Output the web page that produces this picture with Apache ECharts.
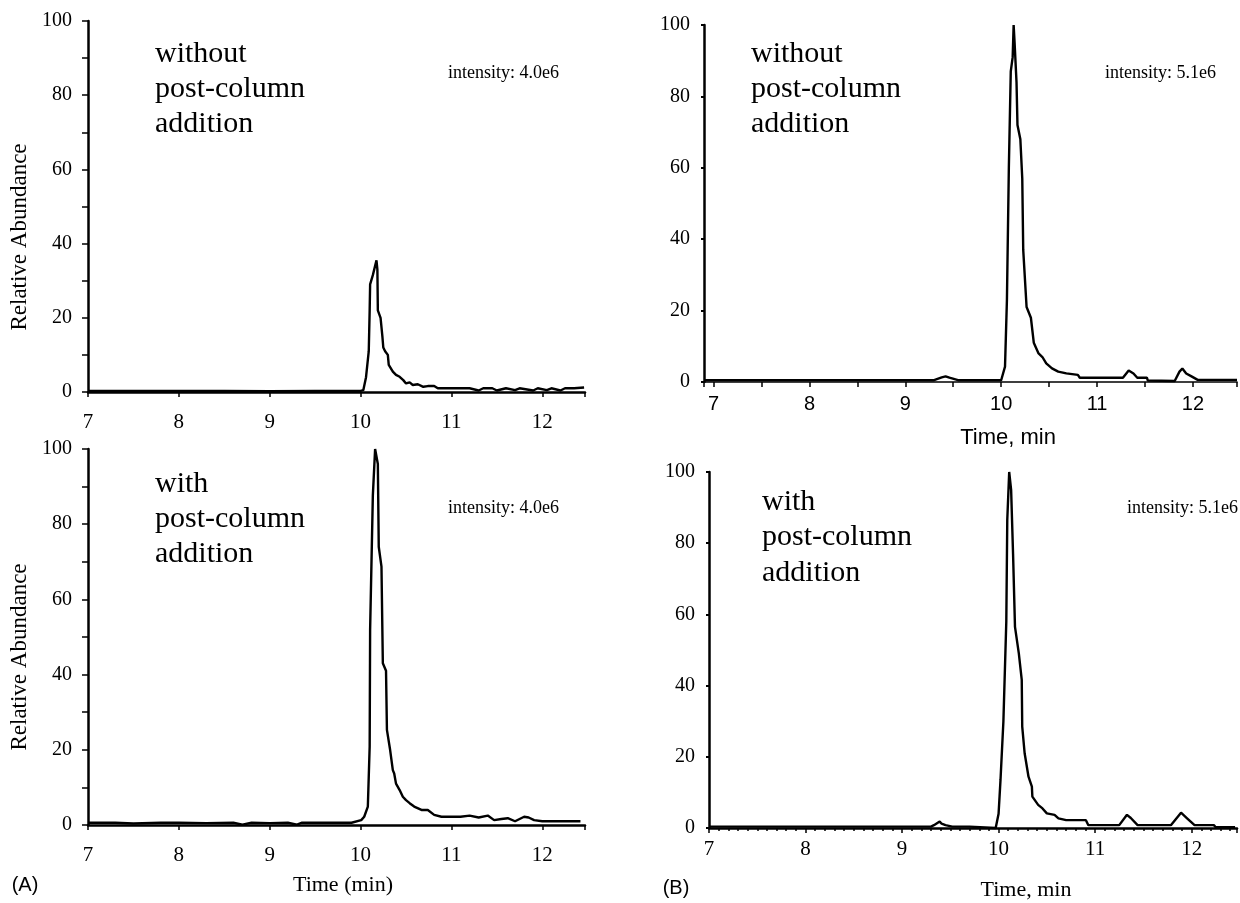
<!DOCTYPE html>
<html>
<head>
<meta charset="utf-8">
<script src="https://cdn.jsdelivr.net/npm/echarts@6/dist/echarts.min.js"></script>
<style>
html,body{margin:0;padding:0;background:#fff;}
#chart{width:1240px;height:903px;}
</style>
</head>
<body>
<div id="chart"></div>
<script>
// Panel A, top: without post-column addition (intensity 4.0e6)
const timeA1 = [7.0, 7.5, 8.0, 8.5, 9.0, 9.5, 10.0, 10.03, 10.06, 10.09, 10.10, 10.105, 10.135, 10.16, 10.175, 10.185, 10.19, 10.22, 10.24, 10.25, 10.27, 10.30, 10.31, 10.355, 10.39, 10.43, 10.47, 10.50, 10.54, 10.575, 10.63, 10.69, 10.74, 10.81, 10.85, 11.0, 11.2, 11.3, 11.35, 11.45, 11.5, 11.6, 11.7, 11.75, 11.9, 11.95, 12.05, 12.1, 12.2, 12.25, 12.35, 12.46];
const abundA1 = [0.3, 0.3, 0.3, 0.3, 0.2, 0.3, 0.3, 0.5, 4, 11, 22, 29, 31.5, 34, 35.5, 33, 22, 20, 15, 12, 11, 10, 7.3, 5.5, 4.6, 4.1, 3.2, 2.3, 2.6, 1.9, 2.1, 1.4, 1.6, 1.6, 1.0, 1.0, 1.0, 0.4, 1.0, 1.0, 0.4, 1.0, 0.5, 1.0, 0.4, 1.0, 0.5, 1.0, 0.4, 1.0, 1.0, 1.2];

// Panel A, bottom: with post-column addition (intensity 4.0e6)
const timeA2 = [7.0, 7.3, 7.5, 7.8, 8.0, 8.3, 8.6, 8.7, 8.8, 9.0, 9.2, 9.3, 9.35, 9.6, 9.9, 10.007, 10.04, 10.08, 10.10, 10.105, 10.135, 10.16, 10.18, 10.19, 10.20, 10.23, 10.245, 10.28, 10.29, 10.325, 10.355, 10.37, 10.39, 10.43, 10.465, 10.50, 10.54, 10.59, 10.67, 10.74, 10.81, 10.89, 11.0, 11.1, 11.2, 11.3, 11.4, 11.47, 11.55, 11.62, 11.7, 11.8, 11.85, 11.91, 12.0, 12.2, 12.31, 12.42];
const abundA2 = [0.6, 0.6, 0.4, 0.6, 0.6, 0.5, 0.6, 0.1, 0.6, 0.5, 0.6, 0.1, 0.6, 0.6, 0.6, 1.3, 2.2, 4.9, 20.8, 51.9, 87.6, 100, 99.7, 96, 74, 68.7, 43, 41, 25.3, 20, 14.6, 13.7, 11, 9.3, 7.5, 6.6, 5.8, 4.9, 4, 4, 2.7, 2.2, 2.2, 2.2, 2.5, 2.0, 2.5, 1.3, 1.6, 1.8, 1.0, 2.2, 2.0, 1.3, 1.0, 1.0, 1.0, 1.0];

// Panel B, top: without post-column addition (intensity 5.1e6)
const timeB1 = [6.9, 7.5, 8.0, 8.5, 9.0, 9.3, 9.38, 9.42, 9.46, 9.55, 9.8, 10.0, 10.04, 10.06, 10.08, 10.10, 10.12, 10.13, 10.14, 10.16, 10.17, 10.20, 10.22, 10.23, 10.265, 10.31, 10.34, 10.39, 10.43, 10.47, 10.53, 10.595, 10.68, 10.80, 10.82, 11.27, 11.33, 11.38, 11.42, 11.52, 11.53, 11.81, 11.86, 11.89, 11.93, 11.99, 12.05, 12.46];
const abundB1 = [0.5, 0.5, 0.5, 0.5, 0.5, 0.5, 1.3, 1.6, 1.2, 0.5, 0.5, 0.5, 4.3, 23, 60, 87, 91, 100, 95, 84, 72, 68, 57, 37, 21, 18, 11, 8, 7, 5.2, 3.8, 2.9, 2.4, 2.0, 1.2, 1.2, 3.2, 2.4, 1.2, 1.2, 0.4, 0.3, 2.9, 3.8, 2.4, 1.5, 0.6, 0.6];

// Panel B, bottom: with post-column addition (intensity 5.1e6)
const timeB2 = [7.0, 7.5, 8.0, 8.5, 9.0, 9.3, 9.33, 9.39, 9.41, 9.45, 9.52, 9.7, 9.97, 10.0, 10.02, 10.05, 10.08, 10.09, 10.11, 10.13, 10.15, 10.17, 10.21, 10.24, 10.245, 10.27, 10.31, 10.345, 10.35, 10.41, 10.455, 10.50, 10.58, 10.62, 10.70, 10.905, 10.93, 11.25, 11.33, 11.37, 11.44, 11.785, 11.89, 11.95, 12.03, 12.23, 12.25, 12.45];
const abundB2 = [0.4, 0.4, 0.4, 0.4, 0.4, 0.4, 0.8, 1.8, 1.2, 0.8, 0.4, 0.4, 0, 4, 13.5, 30, 58, 86.5, 100, 95, 77, 56.5, 49, 41.6, 28.5, 21, 14.4, 11.6, 8.8, 6.5, 5.5, 4.1, 3.7, 2.7, 2.2, 2.2, 0.8, 0.8, 3.7, 2.8, 0.8, 0.8, 4.3, 2.8, 0.8, 0.8, 0.2, 0.2];

const yTicks = [0, 20, 40, 60, 80, 100];
const annotTop = ['without', 'post-column', 'addition'];
const annotBottom = ['with', 'post-column', 'addition'];
const intensityA = 'intensity: 4.0e6';
const intensityB = 'intensity: 5.1e6';

const SERIF = 'Liberation Serif, Times New Roman, serif';
const SANS = 'Liberation Sans, Arial, sans-serif';

function pairs(xs, ys) { return xs.map((x, i) => [x, ys[i]]); }

function yAxisA(gi) {
  return {
    type: 'value', gridIndex: gi, min: 0, max: 100, interval: 10,
    axisLine: { show: true, lineStyle: { color: '#000', width: 2.5 } },
    axisTick: { show: true, length: 6, lineStyle: { color: '#000', width: 1.5 } },
    axisLabel: { color: '#000', fontFamily: SERIF, fontSize: 20, margin: 16,
      formatter: v => (yTicks.indexOf(v) >= 0 ? String(v) : '') },
    splitLine: { show: false }
  };
}
function yAxisB(gi) {
  return {
    type: 'value', gridIndex: gi, min: 0, max: 100, interval: 20,
    axisLine: { show: true, lineStyle: { color: '#000', width: 2.5 } },
    axisTick: { show: true, length: 3, lineStyle: { color: '#000', width: 2 } },
    axisLabel: { color: '#000', fontFamily: SERIF, fontSize: 20, margin: 14,
      formatter: v => (yTicks.indexOf(v) >= 0 ? String(v) : '') },
    splitLine: { show: false }
  };
}
const intLabel = v => (Math.abs(v - Math.round(v)) < 1e-6 ? String(Math.round(v)) : '');

const option = {
  animation: false,
  backgroundColor: '#fff',
  grid: [
    { left: 88, top: 21, width: 497, height: 371 },
    { left: 88, top: 449, width: 497, height: 376 },
    { left: 704, top: 25, width: 536, height: 357 },
    { left: 709, top: 472, width: 531, height: 356 }
  ],
  xAxis: [
    { type: 'value', gridIndex: 0, min: 7, max: 12.47, interval: 1,
      axisLine: { lineStyle: { color: '#000', width: 2.5 } },
      axisTick: { length: 5, lineStyle: { color: '#000', width: 1.5 } },
      axisLabel: { color: '#000', fontFamily: SERIF, fontSize: 21, margin: 20, formatter: intLabel },
      splitLine: { show: false } },
    { type: 'value', gridIndex: 1, min: 7, max: 12.47, interval: 1,
      axisLine: { lineStyle: { color: '#000', width: 2.5 } },
      axisTick: { length: 5, lineStyle: { color: '#000', width: 1.5 } },
      axisLabel: { color: '#000', fontFamily: SERIF, fontSize: 21, margin: 20, formatter: intLabel },
      splitLine: { show: false } },
    { type: 'value', gridIndex: 2, min: 6.9, max: 12.46, minInterval: 1, maxInterval: 1,
      axisLine: { lineStyle: { color: '#000', width: 1.5 } },
      axisTick: { length: 5, lineStyle: { color: '#000', width: 1.5 } },
      minorTick: { show: true, splitNumber: 2, length: 5, lineStyle: { color: '#000', width: 1.5 } },
      axisLabel: { color: '#000', fontFamily: SANS, fontSize: 20, margin: 12, formatter: intLabel },
      splitLine: { show: false } },
    { type: 'value', gridIndex: 3, min: 7, max: 12.47, interval: 1,
      axisLine: { lineStyle: { color: '#000', width: 2.5 } },
      axisTick: { length: 5, lineStyle: { color: '#000', width: 1.5 } },
      minorTick: { show: true, splitNumber: 10, length: 3, lineStyle: { color: '#000', width: 1.5 } },
      axisLabel: { color: '#000', fontFamily: SERIF, fontSize: 21, margin: 11, formatter: intLabel },
      splitLine: { show: false } }
  ],
  yAxis: [yAxisA(0), yAxisA(1), yAxisB(2), yAxisB(3)],
  series: [
    { type: 'line', xAxisIndex: 0, yAxisIndex: 0, data: pairs(timeA1, abundA1) },
    { type: 'line', xAxisIndex: 1, yAxisIndex: 1, data: pairs(timeA2, abundA2) },
    { type: 'line', xAxisIndex: 2, yAxisIndex: 2, data: pairs(timeB1, abundB1) },
    { type: 'line', xAxisIndex: 3, yAxisIndex: 3, data: pairs(timeB2, abundB2) }
  ].map(s => Object.assign(s, {
    showSymbol: false, symbol: 'none', smooth: false, clip: false,
    lineStyle: { color: '#000', width: 2.4 }, itemStyle: { color: '#000' }
  })),
  graphic: [
    { type: 'text', x: 155, y: 37, style: { text: annotTop.join('\n'), font: '30px ' + SERIF, lineHeight: 35, fill: '#000', textAlign: 'left', textVerticalAlign: 'top', align: 'left', verticalAlign: 'top' } },
    { type: 'text', x: 155, y: 467, style: { text: annotBottom.join('\n'), font: '30px ' + SERIF, lineHeight: 35, fill: '#000', textAlign: 'left', textVerticalAlign: 'top', align: 'left', verticalAlign: 'top' } },
    { type: 'text', x: 751, y: 37, style: { text: annotTop.join('\n'), font: '30px ' + SERIF, lineHeight: 35, fill: '#000', textAlign: 'left', textVerticalAlign: 'top', align: 'left', verticalAlign: 'top' } },
    { type: 'text', x: 762, y: 484, style: { text: annotBottom.join('\n'), font: '30px ' + SERIF, lineHeight: 35.5, fill: '#000', textAlign: 'left', textVerticalAlign: 'top', align: 'left', verticalAlign: 'top' } },
    { type: 'text', x: 448, y: 73, style: { text: intensityA, font: '18px ' + SERIF, fill: '#000', textAlign: 'left', textVerticalAlign: 'middle', align: 'left', verticalAlign: 'middle' } },
    { type: 'text', x: 448, y: 508, style: { text: intensityA, font: '18px ' + SERIF, fill: '#000', textAlign: 'left', textVerticalAlign: 'middle', align: 'left', verticalAlign: 'middle' } },
    { type: 'text', x: 1105, y: 73, style: { text: intensityB, font: '18px ' + SERIF, fill: '#000', textAlign: 'left', textVerticalAlign: 'middle', align: 'left', verticalAlign: 'middle' } },
    { type: 'text', x: 1127, y: 508, style: { text: intensityB, font: '18px ' + SERIF, fill: '#000', textAlign: 'left', textVerticalAlign: 'middle', align: 'left', verticalAlign: 'middle' } },
    { type: 'text', x: 20, y: 237, rotation: Math.PI / 2, style: { text: 'Relative Abundance', font: '23px ' + SERIF, fill: '#000', textAlign: 'center', textVerticalAlign: 'middle', align: 'center', verticalAlign: 'middle' } },
    { type: 'text', x: 20, y: 657, rotation: Math.PI / 2, style: { text: 'Relative Abundance', font: '23px ' + SERIF, fill: '#000', textAlign: 'center', textVerticalAlign: 'middle', align: 'center', verticalAlign: 'middle' } },
    { type: 'text', x: 343, y: 885, style: { text: 'Time (min)', font: '22px ' + SERIF, fill: '#000', textAlign: 'center', textVerticalAlign: 'middle', align: 'center', verticalAlign: 'middle' } },
    { type: 'text', x: 25, y: 885, style: { text: '(A)', font: '20px ' + SANS, fill: '#000', textAlign: 'center', textVerticalAlign: 'middle', align: 'center', verticalAlign: 'middle' } },
    { type: 'text', x: 676, y: 888, style: { text: '(B)', font: '20px ' + SANS, fill: '#000', textAlign: 'center', textVerticalAlign: 'middle', align: 'center', verticalAlign: 'middle' } },
    { type: 'text', x: 1008, y: 438, style: { text: 'Time, min', font: '22px ' + SANS, fill: '#000', textAlign: 'center', textVerticalAlign: 'middle', align: 'center', verticalAlign: 'middle' } },
    { type: 'text', x: 1026, y: 890, style: { text: 'Time, min', font: '22px ' + SERIF, fill: '#000', textAlign: 'center', textVerticalAlign: 'middle', align: 'center', verticalAlign: 'middle' } }
  ]
};

const chart = echarts.init(document.getElementById('chart'), null, { renderer: 'canvas' });
chart.setOption(option);
</script>
</body>
</html>
